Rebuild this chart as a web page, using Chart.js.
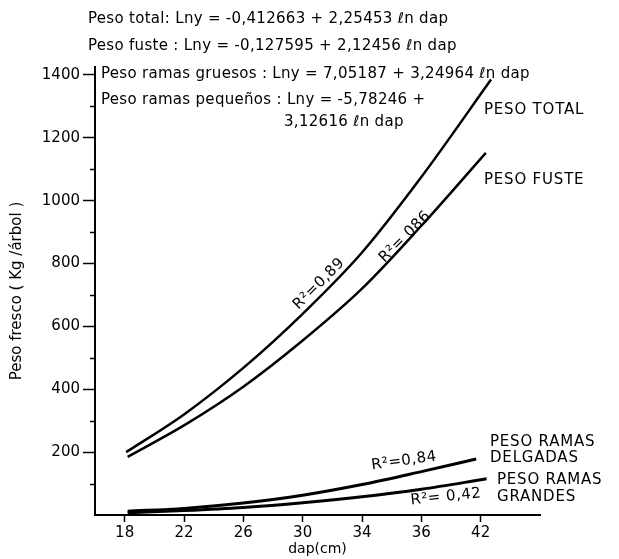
<!DOCTYPE html>
<html>
<head>
<meta charset="utf-8">
<script src="https://cdn.jsdelivr.net/npm/chart.js@4/dist/chart.umd.min.js"></script>
<style>
html,body{margin:0;padding:0;background:#fff;}
#c{display:block;}
</style>
</head>
<body>
<canvas id="c" width="619" height="559"></canvas>
<script>
// ---- data ----
const xTickValues = [18, 22, 26, 30, 34, 38, 42];
const xTickLabels = ['18', '22', '26', '30', '34', '36', '42'];
const yTickValues = [200, 400, 600, 800, 1000, 1200, 1400];
const yMinorTicks = [100, 300, 500, 700, 900, 1100, 1300];

const dapTotal = [18.1, 22, 26, 30, 34, 38, 42.7];
const pesoTotal = [200, 320, 468, 640, 835, 1075, 1385];

const dapFuste = [18.2, 22, 26, 30, 34, 38, 42.35];
const pesoFuste = [185, 285, 408, 555, 720, 920, 1152];

const dapDelgadas = [18.2, 22, 26, 30, 34, 38, 41.7];
const pesoDelgadas = [12, 21, 38, 63, 97, 138, 178];

const dapGrandes = [18.2, 22, 26, 30, 34, 38, 42.4];
const pesoGrandes = [7, 14, 24, 39, 58, 82, 115];

const equations = [
  'Peso total: Lny = -0,412663 + 2,25453 ℓn dap',
  'Peso fuste : Lny = -0,127595 + 2,12456 ℓn dap',
  'Peso ramas gruesos : Lny = 7,05187 + 3,24964 ℓn dap',
  'Peso ramas pequeños : Lny = -5,78246 +',
  '3,12616 ℓn dap'
];

function pts(xs, ys) { return xs.map((x, i) => ({x: x, y: ys[i]})); }

const FONT = '"DejaVu Sans", sans-serif';

function mkDs(label, xs, ys, w) {
  return {
    label: label, data: pts(xs, ys), showLine: true,
    borderColor: '#000', borderWidth: w, pointRadius: 0,
    cubicInterpolationMode: 'monotone', fill: false
  };
}

const annot = {
  id: 'annot',
  afterDraw(chart) {
    const ctx = chart.ctx;
    const ys = chart.scales.y;
    ctx.save();
    // minor ticks on y axis
    ctx.strokeStyle = '#000'; ctx.lineWidth = 1.5;
    yMinorTicks.forEach(v => {
      const p = Math.round(ys.getPixelForValue(v)) + 0.5;
      ctx.beginPath(); ctx.moveTo(ys.right - 5, p); ctx.lineTo(ys.right, p); ctx.stroke();
    });
    ctx.fillStyle = '#000';
    ctx.textBaseline = 'middle';
    ctx.textAlign = 'left';
    ctx.font = '15px ' + FONT;
    ctx.letterSpacing = '0.3px';
    const eqPos = [[88, 19], [88, 46], [101, 74], [101, 100], [284, 122]];
    equations.forEach((t, i) => ctx.fillText(t, eqPos[i][0], eqPos[i][1]));

    ctx.font = '15px ' + FONT;
    ctx.letterSpacing = '0.8px';
    ctx.fillText('PESO TOTAL', 484, 110);
    ctx.fillText('PESO FUSTE', 484, 180);
    ctx.fillText('PESO RAMAS', 490, 442);
    ctx.fillText('DELGADAS', 490, 458);
    ctx.fillText('PESO RAMAS', 497, 480);
    ctx.fillText('GRANDES', 497, 497);

    function rot(t, x, y, a) {
      ctx.save(); ctx.translate(x, y); ctx.rotate(a * Math.PI / 180);
      ctx.textAlign = 'center'; ctx.fillText(t, 0, 0); ctx.restore();
    }
    ctx.font = '15px ' + FONT;
    ctx.letterSpacing = '0.5px';
    rot('R²=0,89', 319, 284, -45);
    rot('R²= 086', 405, 237, -45);
    rot('R²=0,84', 404, 461, -8);
    rot('R²= 0,42', 446, 497, -6);
    ctx.restore();
  }
};

new Chart(document.getElementById('c'), {
  type: 'scatter',
  data: {
    datasets: [
      mkDs('Peso total', dapTotal, pesoTotal, 2.5),
      mkDs('Peso fuste', dapFuste, pesoFuste, 2.5),
      mkDs('Peso ramas delgadas', dapDelgadas, pesoDelgadas, 3),
      mkDs('Peso ramas grandes', dapGrandes, pesoGrandes, 3)
    ]
  },
  options: {
    responsive: false, animation: false, devicePixelRatio: 1,
    layout: {padding: {top: 67, right: 79, left: 0, bottom: 0}},
    plugins: {legend: {display: false}, tooltip: {enabled: false}},
    scales: {
      x: {
        type: 'linear', min: 16, max: 46,
        afterBuildTicks: s => { s.ticks = xTickValues.map(v => ({value: v})); },
        afterFit: s => { s.height = 44; },
        grid: {drawOnChartArea: false, drawTicks: true, tickLength: 7, color: '#000', tickWidth: 1.5},
        border: {color: '#000', width: 2},
        ticks: {
          color: '#000', font: {family: FONT, size: 15}, padding: 2, maxRotation: 0,
          callback: (v) => { const i = xTickValues.indexOf(v); return i >= 0 ? xTickLabels[i] : ''; }
        },
        title: {display: true, text: 'dap(cm)', color: '#000', font: {family: FONT, size: 14}, padding: {top: 0, bottom: 1}}
      },
      y: {
        type: 'linear', min: 0, max: 1425,
        afterBuildTicks: s => { s.ticks = yTickValues.map(v => ({value: v})); },
        afterFit: s => { s.width = 95; },
        grid: {drawOnChartArea: false, drawTicks: true, tickLength: 12, color: '#000', tickWidth: 1.5},
        border: {color: '#000', width: 2},
        ticks: {color: '#000', font: {family: FONT, size: 15}, padding: 3, callback: v => String(v)},
        title: {display: true, text: 'Peso fresco ( Kg /árbol )', color: '#000', font: {family: FONT, size: 15}, padding: {top: 8, bottom: 0}}
      }
    }
  },
  plugins: [annot]
});
</script>
</body>
</html>
